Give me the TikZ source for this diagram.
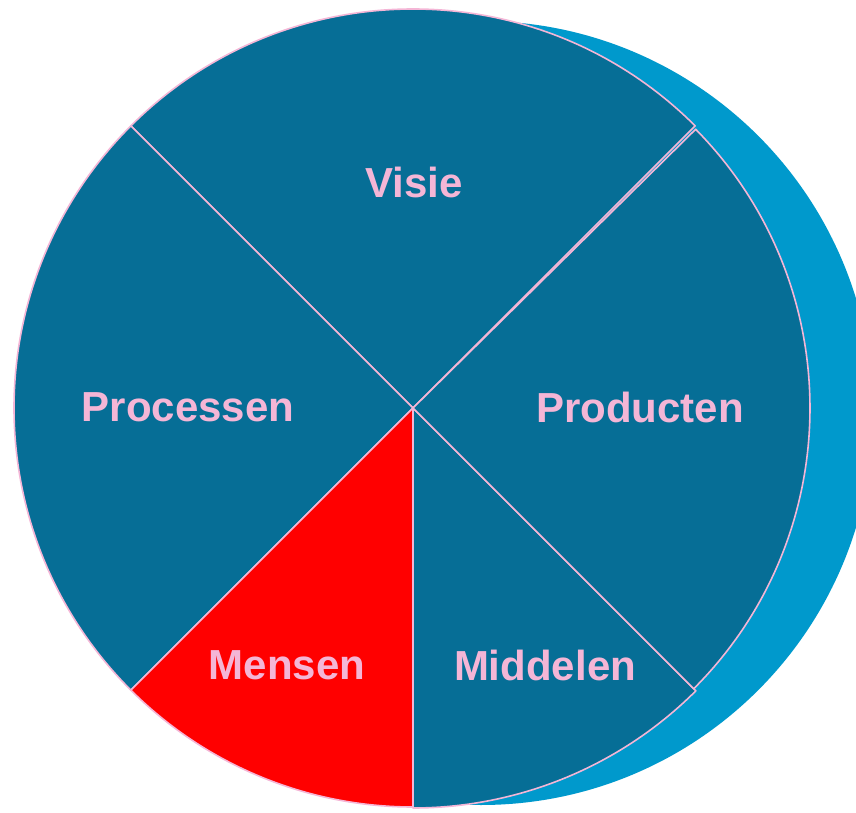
\documentclass[tikz,border=0pt]{standalone}
\usepackage{fontspec}
\setmainfont{Liberation Sans}
\definecolor{pieblue}{HTML}{066E96}
\definecolor{backblue}{HTML}{0099CC}
\definecolor{piepink}{HTML}{F4B6D6}
\definecolor{piered}{HTML}{FF0000}
\begin{document}
\begin{tikzpicture}[x=1pt,y=1pt,
  slice/.style={fill=pieblue, draw=piepink, line width=1.6pt, line join=round},
  lbl/.style={text=piepink, font=\fontsize{42}{42}\selectfont\bfseries, inner sep=0pt}]
\useasboundingbox (0,0) rectangle (856,812);
\clip (0,0) rectangle (856,812);
\fill[backblue] (481,399) circle[radius=392pt];
\coordinate (c) at (413,404);
% Visie
\draw[slice] (c) -- ++(45:399pt) arc[start angle=45,end angle=135,radius=399pt] -- cycle;
% Processen
\draw[slice] (c) -- ++(135:399pt) arc[start angle=135,end angle=225,radius=399pt] -- cycle;
% Mensen
\draw[slice, fill=piered] (c) -- ++(225:399pt) arc[start angle=225,end angle=270,radius=399pt] -- cycle;
% Middelen
\draw[slice] (c) -- ++(270:400pt) arc[start angle=270,end angle=315,radius=400pt] -- cycle;
% Producten
\draw[slice] (c) -- ++(-45:397pt) arc[start angle=-45,end angle=44.6,radius=397pt] -- cycle;
\node[lbl] (visie) at (414,630) {Visie};
\node[lbl] (processen) at (188,405) {Processen};
\node[lbl] (producten) at (640,405) {Producten};
\node[lbl] (mensen) at (287,147) {Mensen};
\node[lbl] (middelen) at (545,147) {Middelen};
\end{tikzpicture}
\end{document}
